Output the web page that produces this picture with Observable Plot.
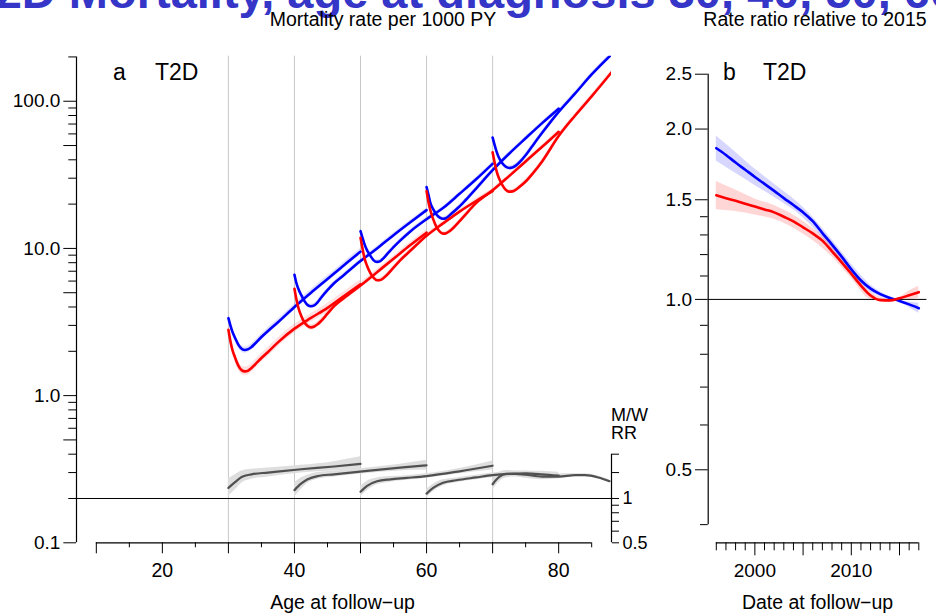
<!DOCTYPE html>
<html><head><meta charset="utf-8">
<script src="https://cdn.jsdelivr.net/npm/d3@7"></script>
<script src="https://cdn.jsdelivr.net/npm/@observablehq/plot@0.6"></script>
<style>
html,body{margin:0;padding:0;background:#fff;}
#root{position:relative;width:936px;height:616px;overflow:hidden;font-family:"Liberation Sans",Arial,sans-serif;}
#root svg{position:absolute;top:0;}
.lbl{position:absolute;line-height:1;white-space:nowrap;color:#000;}
</style></head><body><div id="root"></div>
<script>
// ---------- Panel a: mortality rate per 1000 PY by age at follow-up ----------
const diagAges = [30, 40, 50, 60, 70];
// years since diagnosis at which values were read
const offsets = [0, 0.3, 0.6, 1, 1.5, 2, 2.5, 3, 3.5, 4, 5, 6, 7.5, 10, 12.5, 15, 17.5, 20];
const offsets70 = [0, 0.3, 0.6, 1, 1.5, 2, 2.5, 3, 3.5, 4, 5, 6, 7.5, 10, 12.5, 15, 18];

const menRate30 = [3.36, 3.0, 2.72, 2.47, 2.22, 2.08, 2.04, 2.07, 2.14, 2.25, 2.5, 2.75, 3.15, 4.0, 5.0, 6.2, 7.7, 9.5];
const menRate40 = [6.62, 5.8, 5.3, 4.85, 4.4, 4.12, 4.05, 4.1, 4.3, 4.6, 5.2, 5.8, 6.6, 8.2, 10.0, 12.3, 15.0, 18.2];
const menRate50 = [13.1, 11.8, 10.7, 9.7, 8.9, 8.3, 8.1, 8.2, 8.6, 9.1, 10.2, 11.3, 13.0, 15.8, 18.8, 23.5, 29.5, 37.6];
const menRate60 = [26.1, 23.0, 20.2, 18.5, 17.0, 16.2, 15.9, 16.1, 16.8, 17.6, 19.3, 21.5, 25.5, 34.0, 44.0, 56.0, 71.0, 89.0];
const menRate70 = [56.7, 50.5, 45.5, 41.0, 37.8, 35.9, 35.2, 35.5, 36.5, 38.2, 43.0, 49.5, 61.0, 84.7, 113, 152, 208];

const womenRate30 = [2.80, 2.35, 2.05, 1.82, 1.6, 1.49, 1.46, 1.48, 1.54, 1.62, 1.8, 1.98, 2.3, 2.85, 3.37, 3.95, 4.75, 5.7];
const womenRate40 = [5.32, 4.5, 3.95, 3.5, 3.15, 2.97, 2.91, 2.95, 3.05, 3.2, 3.6, 4.05, 4.6, 5.6, 6.9, 8.5, 10.5, 12.8];
const womenRate50 = [11.8, 10.0, 8.6, 7.6, 6.8, 6.3, 6.08, 6.1, 6.3, 6.6, 7.4, 8.3, 9.6, 12.2, 14.8, 17.8, 21.0, 24.5];
const womenRate60 = [24.5, 20.5, 18.0, 15.8, 14.0, 13.0, 12.6, 12.7, 13.1, 13.7, 15.3, 17.2, 20.3, 24.8, 31.0, 39.0, 49.0, 62.0];
const womenRate70 = [45, 38.5, 33.5, 29.7, 26.8, 25.0, 24.3, 24.4, 25.0, 26.0, 28.5, 32.0, 39.0, 58.0, 80.0, 108, 157];

// confidence band half-width (as a ratio) read for each curve
const menCI = [1.05, 1.035, 1.03, 1.03, 1.035];
const womenCI = [1.07, 1.045, 1.035, 1.03, 1.035];

// M/W rate ratio curves (age, RR, lower, upper)
const rrAge30 = [30, 31, 32, 33.5, 36, 41, 46, 50];
const rr30    = [1.18, 1.29, 1.40, 1.46, 1.50, 1.58, 1.65, 1.72];
const rrLo30  = [1.03, 1.14, 1.27, 1.35, 1.40, 1.49, 1.54, 1.56];
const rrHi30  = [1.36, 1.45, 1.54, 1.58, 1.61, 1.68, 1.78, 1.92];
const rrAge40 = [40, 41, 42, 43.5, 46, 51, 56, 60];
const rr40    = [1.14, 1.26, 1.35, 1.42, 1.46, 1.54, 1.62, 1.68];
const rrLo40  = [1.02, 1.15, 1.27, 1.35, 1.40, 1.48, 1.54, 1.56];
const rrHi40  = [1.28, 1.38, 1.44, 1.50, 1.53, 1.61, 1.71, 1.82];
const rrAge50 = [50, 51, 52.5, 54.5, 57, 60, 65, 70];
const rr50    = [1.11, 1.22, 1.31, 1.35, 1.38, 1.42, 1.53, 1.67];
const rrLo50  = [1.02, 1.13, 1.24, 1.29, 1.33, 1.37, 1.47, 1.56];
const rrHi50  = [1.21, 1.31, 1.38, 1.41, 1.43, 1.47, 1.60, 1.80];
const rrAge60 = [60, 61, 62.5, 64.5, 67.5, 70, 72.5, 75, 77.5, 80];
const rr60    = [1.08, 1.18, 1.28, 1.33, 1.39, 1.44, 1.47, 1.48, 1.46, 1.43];
const rrLo60  = [1.01, 1.11, 1.22, 1.28, 1.34, 1.39, 1.42, 1.42, 1.40, 1.36];
const rrHi60  = [1.15, 1.25, 1.34, 1.38, 1.44, 1.49, 1.52, 1.54, 1.53, 1.51];
const rrAge70 = [70, 71, 72, 73.5, 75, 77.5, 80, 82.5, 84, 86, 87.7];
const rr70    = [1.25, 1.40, 1.47, 1.47, 1.45, 1.41, 1.41, 1.44, 1.44, 1.39, 1.31];
const rrLo70  = [1.13, 1.30, 1.38, 1.40, 1.37, 1.34, 1.36, 1.41, 1.41, 1.36, 1.28];
const rrHi70  = [1.38, 1.50, 1.55, 1.54, 1.53, 1.49, 1.47, 1.47, 1.47, 1.42, 1.34];

// axis ticks, panel a
const yMajorA = [0.1, 0.5, 1, 5, 10, 50, 100];
const yMinorA = [0.2, 0.3, 0.4, 0.6, 0.7, 0.8, 0.9, 2, 3, 4, 6, 7, 8, 9, 20, 30, 40, 60, 70, 80, 90, 200];
const xMajorA = [10, 20, 30, 40, 50, 60, 70, 80];
const xLabelsA = [20, 40, 60, 80];
const xMinorA = [15, 25, 35, 45, 55, 65, 75, 85];
const rrTicks = [0.5, 1, 2];
const rrMinor = [0.6, 0.7, 0.8, 0.9, 1.5];

// ---------- Panel b: rate ratio relative to 2015 by calendar year ----------
const years = [1996, 1997, 1998, 1999, 2000, 2001, 2002, 2003, 2004, 2005, 2006, 2007, 2008, 2009, 2010, 2011, 2012, 2013, 2014, 2015, 2016, 2017];
const menRatio   = [1.85, 1.80, 1.745, 1.695, 1.646, 1.60, 1.555, 1.51, 1.468, 1.425, 1.375, 1.31, 1.25, 1.19, 1.13, 1.08, 1.045, 1.022, 1.006, 0.994, 0.98, 0.965];
const womenRatio = [1.528, 1.51, 1.494, 1.476, 1.459, 1.442, 1.425, 1.40, 1.374, 1.341, 1.308, 1.27, 1.216, 1.163, 1.11, 1.058, 1.016, 0.997, 0.996, 1.005, 1.017, 1.03];
const bandYears = [1996, 1998, 2000, 2002, 2005, 2008, 2010, 2012, 2014, 2015, 2016, 2017];
const menLo   = [1.757, 1.67, 1.59, 1.515, 1.395, 1.225, 1.105, 1.03, 1.0, 0.992, 0.968, 0.945];
const menHi   = [1.945, 1.82, 1.70, 1.60, 1.455, 1.275, 1.155, 1.06, 1.012, 0.997, 0.99, 0.985];
const womenLo = [1.44, 1.43, 1.41, 1.385, 1.305, 1.19, 1.09, 1.0, 0.99, 1.002, 1.0, 1.005];
const womenHi = [1.615, 1.56, 1.505, 1.465, 1.375, 1.245, 1.13, 1.03, 1.002, 1.008, 1.035, 1.055];
const yMajorB = [0.5, 1.0, 1.5, 2.0, 2.5];
const yMinorB = [0.4, 0.6, 0.7, 0.8, 0.9, 1.1, 1.2, 1.3, 1.4];
const xMajorB = [2000, 2005, 2010, 2015];
const xLabelsB = [2000, 2010];
const xMinorB = [1996, 1997, 1998, 1999, 2001, 2002, 2003, 2004, 2006, 2007, 2008, 2009, 2011, 2012, 2013, 2014, 2016, 2017];

// ---------- build tables ----------
const menRates = [menRate30, menRate40, menRate50, menRate60, menRate70];
const womenRates = [womenRate30, womenRate40, womenRate50, womenRate60, womenRate70];
const menRows = [], womenRows = [];
diagAges.forEach((d, i) => {
  const offs = d === 70 ? offsets70 : offsets;
  offs.forEach((o, j) => {
    menRows.push({diag: d, age: d + o, rate: menRates[i][j], lo: menRates[i][j] / menCI[i], hi: menRates[i][j] * menCI[i]});
    womenRows.push({diag: d, age: d + o, rate: womenRates[i][j], lo: womenRates[i][j] / womenCI[i], hi: womenRates[i][j] * womenCI[i]});
  });
});
const rrSets = [[rrAge30, rr30, rrLo30, rrHi30], [rrAge40, rr40, rrLo40, rrHi40], [rrAge50, rr50, rrLo50, rrHi50], [rrAge60, rr60, rrLo60, rrHi60], [rrAge70, rr70, rrLo70, rrHi70]];
const rrRows = [];
rrSets.forEach(([ages, rr, lo, hi], i) => ages.forEach((a, j) => rrRows.push({diag: diagAges[i], age: a, rr: rr[j], lo: lo[j], hi: hi[j]})));
const rrScale = 0.2; // RR axis shares the log scale: RR 1 sits at 0.2 on the rate axis
const ratioRows = years.map((y, i) => ({year: y, men: menRatio[i], women: womenRatio[i]}));
const bandRows = bandYears.map((y, i) => ({year: y, menLo: menLo[i], menHi: menHi[i], womenLo: womenLo[i], womenHi: womenHi[i]}));

const FONT = '"Liberation Sans", Arial, sans-serif';
const fmt1 = d3.format(".1f");
const rrFmt = v => String(Math.round(v / rrScale * 100) / 100);
const root = document.getElementById("root");

const panelA = Plot.plot({
  width: 640, height: 616,
  marginLeft: 76, marginRight: 29, marginTop: 55.7, marginBottom: 73.7,
  style: {fontFamily: FONT, fontSize: "19px", background: "transparent", overflow: "visible"},
  x: {domain: [7, 88]},
  y: {type: "log", domain: [0.1, 202.3]},
  marks: [
    Plot.ruleX(diagAges, {stroke: "#c8c8c8", strokeWidth: 1}),
    Plot.areaY(rrRows, {x: "age", y1: d => rrScale * d.lo, y2: d => rrScale * d.hi, z: "diag", fill: "#dedede", curve: "monotone-x"}),
    Plot.ruleY([rrScale], {stroke: "#000", strokeWidth: 1}),
    Plot.line(rrRows, {x: "age", y: d => rrScale * d.rr, z: "diag", stroke: "#505050", strokeWidth: 2.2, curve: "monotone-x"}),
    Plot.areaY(menRows, {x: "age", y1: "lo", y2: "hi", z: "diag", fill: "#0000ff", fillOpacity: 0.12, curve: "monotone-x", clip: true}),
    Plot.areaY(womenRows, {x: "age", y1: "lo", y2: "hi", z: "diag", fill: "#ff0000", fillOpacity: 0.12, curve: "monotone-x", clip: true}),
    Plot.line(menRows, {x: "age", y: "rate", z: "diag", stroke: "#0000ff", strokeWidth: 2.6, curve: "monotone-x", clip: true}),
    Plot.line(womenRows, {x: "age", y: "rate", z: "diag", stroke: "#ff0000", strokeWidth: 2.6, curve: "monotone-x", clip: true}),
    Plot.ruleX([7], {y1: 0.1, y2: 200, stroke: "#000", strokeWidth: 1.2}),
    Plot.ruleY([0.1], {x1: 10, x2: 85, stroke: "#000", strokeWidth: 1.2}),
    Plot.ruleX([88], {y1: rrScale * 0.5, y2: rrScale * 2, stroke: "#000", strokeWidth: 1.2}),
    Plot.axisY({ticks: yMajorA, tickSize: 12.7, tickPadding: 3.5, tickFormat: fmt1, label: null, fontSize: 19}),
    Plot.axisY({ticks: yMinorA, tickSize: 7.7, tickFormat: () => "", label: null}),
    Plot.axisY({anchor: "right", ticks: rrTicks.map(r => rrScale * r), tickSize: 7, tickPadding: 4, tickFormat: rrFmt, label: null, fontSize: 18}),
    Plot.axisY({anchor: "right", ticks: rrMinor.map(r => rrScale * r), tickSize: 7, tickFormat: () => "", label: null}),
    Plot.axisX({ticks: xMajorA, tickSize: 11, tickPadding: 9.5, tickFormat: d => xLabelsA.includes(d) ? String(d) : "", label: null, fontSize: 19.5}),
    Plot.axisX({ticks: xMinorA, tickSize: 5, tickFormat: () => "", label: null})
  ]
});
panelA.style.left = "0px";
root.appendChild(panelA);

const panelB = Plot.plot({
  width: 296, height: 616,
  marginLeft: 67.7, marginRight: 9.6, marginTop: 55.7, marginBottom: 73.7,
  style: {fontFamily: FONT, fontSize: "19px", background: "transparent", overflow: "visible"},
  x: {domain: [1995.16, 2017.84]},
  y: {type: "log", domain: [0.3715, 2.69]},
  marks: [
    Plot.areaY(bandRows, {x: "year", y1: "menLo", y2: "menHi", fill: "#0000ff", fillOpacity: 0.16, curve: "monotone-x"}),
    Plot.areaY(bandRows, {x: "year", y1: "womenLo", y2: "womenHi", fill: "#ff0000", fillOpacity: 0.16, curve: "monotone-x"}),
    Plot.ruleY([1], {stroke: "#000", strokeWidth: 1}),
    Plot.line(ratioRows, {x: "year", y: "men", stroke: "#0000ff", strokeWidth: 2.6, curve: "monotone-x"}),
    Plot.line(ratioRows, {x: "year", y: "women", stroke: "#ff0000", strokeWidth: 2.6, curve: "monotone-x"}),
    Plot.ruleX([1995.16], {y1: 0.4, y2: 2.5, stroke: "#000", strokeWidth: 1.2}),
    Plot.ruleY([0.3715], {x1: 1996, x2: 2017, stroke: "#000", strokeWidth: 1.2}),
    Plot.axisY({ticks: yMajorB, tickSize: 12.7, tickPadding: 3.5, tickFormat: fmt1, label: null, fontSize: 19}),
    Plot.axisY({ticks: yMinorB, tickSize: 7.7, tickFormat: () => "", label: null}),
    Plot.axisX({ticks: xMajorB, tickSize: 13, tickPadding: 7.5, tickFormat: d => xLabelsB.includes(d) ? String(d) : "", label: null, fontSize: 19}),
    Plot.axisX({ticks: xMinorB, tickSize: 8, tickFormat: () => "", label: null})
  ]
});
panelB.style.left = "640px";
root.appendChild(panelB);

// ---------- text ----------
function addLabel(text, x, baseline, size, opts = {}) {
  const el = document.createElement("div");
  el.className = "lbl";
  el.textContent = text;
  el.style.left = x + "px";
  el.style.top = (baseline - 0.8465 * size) + "px";
  el.style.fontSize = size + "px";
  el.style.fontFamily = opts.family || FONT;
  el.style.fontWeight = opts.weight || "normal";
  el.style.color = opts.color || "#000";
  if (opts.anchor === "middle") el.style.transform = "translateX(-50%)";
  root.appendChild(el);
  return el;
}
addLabel("T2D Mortality, age at diagnosis 30, 40, 50, 60, 70", -33, 8, 47, {weight: "bold", color: "#3535c8"});
addLabel("Mortality rate per 1000 PY", 383, 27, 19.5, {anchor: "middle"});
addLabel("Rate ratio relative to 2015", 815, 27, 19.5, {anchor: "middle"});
addLabel("a", 113, 80, 23);
addLabel("T2D", 155, 80, 23);
addLabel("b", 723, 80, 23);
addLabel("T2D", 763, 80, 23);
addLabel("M/W", 611, 421.5, 18);
addLabel("RR", 611, 439, 18);
addLabel("Age at follow\u2212up", 342.5, 610, 19.5, {anchor: "middle"});
addLabel("Date at follow\u2212up", 817.5, 610, 19.5, {anchor: "middle"});
</script></body></html>
